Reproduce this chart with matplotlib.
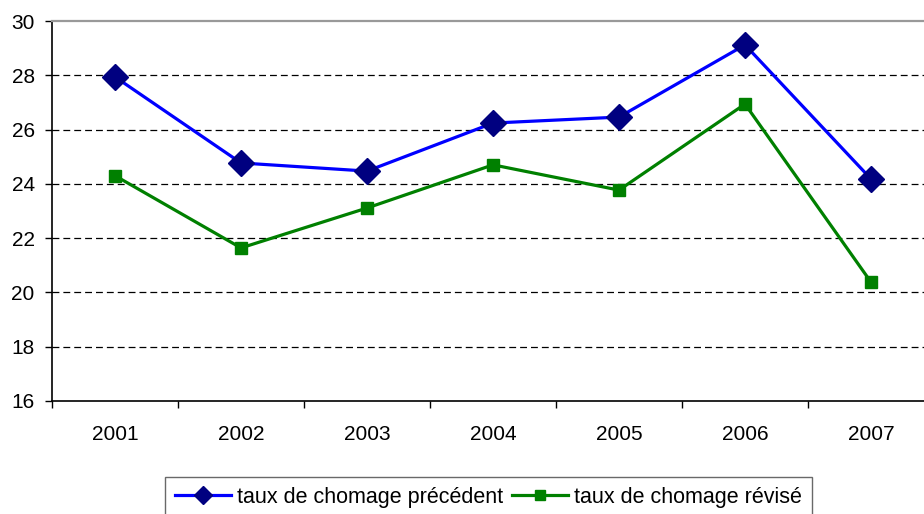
import matplotlib
matplotlib.use("Agg")
import matplotlib.pyplot as plt
from matplotlib.ticker import FixedLocator

plt.rcParams['font.family'] = ['Liberation Sans', 'DejaVu Sans']

years = ['2001', '2002', '2003', '2004', '2005', '2006', '2007']
precedent = [27.94, 24.77, 24.47, 26.24, 26.46, 29.12, 24.18]
revise = [24.30, 21.64, 23.11, 24.70, 23.77, 26.94, 20.38]
yticks = [16, 18, 20, 22, 24, 26, 28, 30]

W, H = 924, 514
fig = plt.figure(figsize=(W / 100, H / 100), dpi=100)
ax = fig.add_axes([52 / W, 1 - 401 / H, 882 / W, 380 / H])

x = list(range(len(years)))
ax.plot(x, precedent, color='#0000FF', lw=2.3, marker='D', markersize=13,
        markerfacecolor='#000080', markeredgecolor='#000080',
        label='taux de chomage précédent', zorder=4)
ax.plot(x, revise, color='#008000', lw=2.3, marker='s', markersize=8.5,
        markerfacecolor='#008000', markeredgecolor='#008000',
        label='taux de chomage révisé', zorder=3)

ax.set_xlim(-0.5, len(years) - 0.5)
ax.set_ylim(16, 30)
ax.set_yticks(yticks)
ax.set_yticklabels([str(v) for v in yticks], fontsize=15)
ax.set_xticks(x)
ax.set_xticklabels(years, fontsize=15)
ax.xaxis.set_minor_locator(FixedLocator([i - 0.5 for i in range(len(years) + 1)]))
ax.tick_params(axis='x', which='major', length=0, pad=17)
ax.tick_params(axis='x', which='minor', length=5, width=1, direction='out', color='black')
ax.tick_params(axis='y', which='major', length=5, width=1, direction='out', pad=7.5)

for v in yticks[1:-1]:
    ax.axhline(v, color='black', lw=0.9, dashes=(5.5, 3.2), zorder=1)

ax.spines['top'].set_color('#999999')
ax.spines['top'].set_linewidth(1.6)
ax.spines['right'].set_visible(False)
ax.spines['left'].set_linewidth(1.2)
ax.spines['bottom'].set_linewidth(1.2)

leg = fig.legend(loc='upper left', bbox_to_anchor=(165 / W, 1 - 477 / H),
                 ncol=2, fontsize=15.5, frameon=True, fancybox=False,
                 edgecolor='#444444', handlelength=2.6, handletextpad=0.3,
                 columnspacing=0.4, borderpad=0.45, borderaxespad=0)
leg.get_frame().set_linewidth(1.0)
for h in leg.legend_handles:
    if h.get_marker() == 'D':
        h.set_markersize(9)
    else:
        h.set_markersize(7)

fig.savefig('out.png', dpi=100)
